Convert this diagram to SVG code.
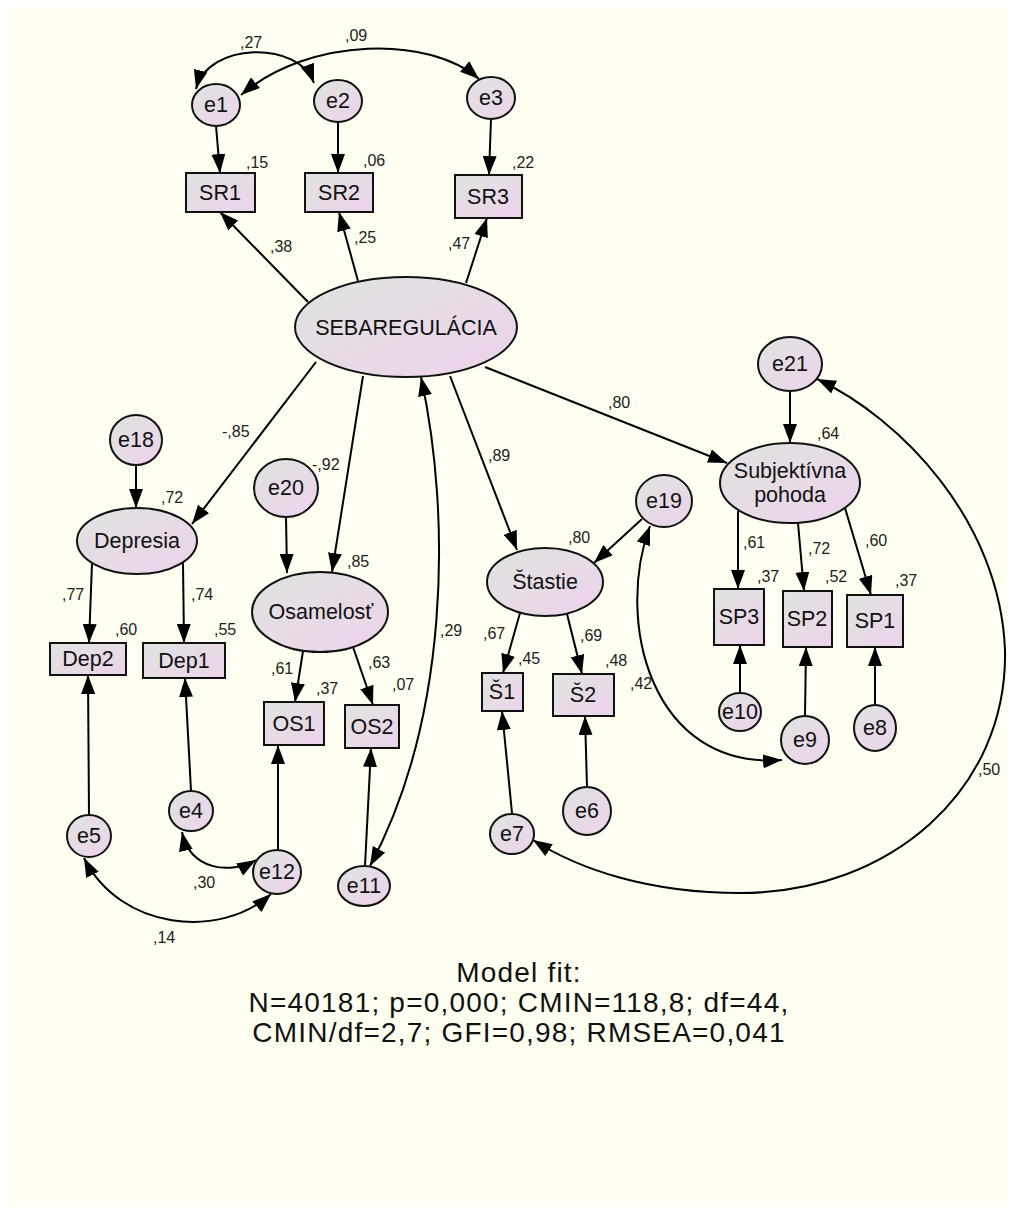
<svg xmlns="http://www.w3.org/2000/svg" width="1017" height="1214" viewBox="0 0 1017 1214">
<style>
.n{stroke:#111;stroke-width:2;fill:url(#g)}
.t{font-family:"Liberation Sans",Arial,sans-serif;font-size:21.5px;fill:#111;text-anchor:middle}
.l{font-family:"Liberation Sans",Arial,sans-serif;font-size:16px;fill:#222}
.c{fill:none;stroke:#000;stroke-width:2;marker-end:url(#a)}
.b{fill:none;stroke:#000;stroke-width:2;marker-end:url(#a);marker-start:url(#a)}
.f{font-family:"Liberation Sans",Arial,sans-serif;font-size:28px;fill:#111;text-anchor:middle;letter-spacing:1.2px}
</style>
<defs>
<linearGradient id="g" x1="0" y1="0" x2="1" y2="1">
<stop offset="0" stop-color="#e0e3e1"/>
<stop offset="1" stop-color="#edd3ea"/>
</linearGradient>
<marker id="a" markerUnits="userSpaceOnUse" markerWidth="19" markerHeight="14" refX="19" refY="7" orient="auto-start-reverse">
<path d="M0,0 L19,7 L0,14 z" fill="#000"/>
</marker>
</defs>
<rect x="0" y="0" width="1017" height="1214" fill="#fff"/>
<rect x="8" y="7" width="1001" height="1200" fill="#fefff0"/>

<g id="connectors">
<line class="c" x1="216" y1="126" x2="220" y2="173"/>
<line class="c" x1="338" y1="122" x2="338" y2="173"/>
<line class="c" x1="491" y1="119" x2="489" y2="175"/>
<line class="c" x1="308" y1="302" x2="220" y2="212"/>
<line class="c" x1="358" y1="281" x2="339" y2="212"/>
<line class="c" x1="466" y1="283" x2="487" y2="218"/>
<path class="b" d="M196,89 C208,42 298,40 314,83"/>
<path class="b" d="M241,95 C310,36 430,36 479,79"/>
<line class="c" x1="136" y1="465" x2="136" y2="508"/>
<line class="c" x1="316" y1="362" x2="192" y2="524"/>
<line class="c" x1="92" y1="563" x2="89" y2="643"/>
<line class="c" x1="183" y1="563" x2="184" y2="643"/>
<line class="c" x1="286" y1="517" x2="287" y2="573"/>
<line class="c" x1="363" y1="376" x2="332" y2="572"/>
<line class="c" x1="303" y1="651" x2="295" y2="702"/>
<line class="c" x1="353" y1="647" x2="373" y2="705"/>
<path class="b" d="M421,377 C452,520 448,720 370,866"/>
<line class="c" x1="191" y1="791" x2="185" y2="678"/>
<line class="c" x1="89" y1="815" x2="88" y2="675"/>
<line class="c" x1="278" y1="850" x2="278" y2="745"/>
<line class="c" x1="365" y1="866" x2="371" y2="748"/>
<path class="b" d="M182,832 C190,870 230,875 256,860"/>
<path class="b" d="M84,858 C120,930 220,940 271,894"/>
<line class="c" x1="450" y1="376" x2="517" y2="550"/>
<line class="c" x1="485" y1="367" x2="727" y2="463"/>
<line class="c" x1="642" y1="519" x2="594" y2="563"/>
<line class="c" x1="520" y1="613" x2="503" y2="673"/>
<line class="c" x1="567" y1="614" x2="582" y2="674"/>
<line class="c" x1="512" y1="813" x2="502" y2="711"/>
<line class="c" x1="587" y1="787" x2="585" y2="716"/>
<path class="b" d="M650,526 C615,620 650,770 782,760"/>
<line class="c" x1="790" y1="391" x2="790" y2="443"/>
<path class="b" d="M817,379 C900,418 1000,520 1005,650 C1008,790 890,893 740,893 C650,893 580,870 533,840"/>
<line class="c" x1="740" y1="693" x2="740" y2="645"/>
<line class="c" x1="805" y1="716" x2="806" y2="647"/>
<line class="c" x1="875" y1="705" x2="875" y2="647"/>
<line class="c" x1="738" y1="511" x2="738" y2="589"/>
<line class="c" x1="798" y1="523" x2="804" y2="591"/>
<line class="c" x1="845" y1="508" x2="871" y2="595"/>
</g>

<g id="e1"><ellipse class="n" cx="216" cy="105" rx="24" ry="21"/><text class="t" x="216" y="112">e1</text></g>
<g id="e2"><ellipse class="n" cx="338" cy="101" rx="24" ry="21"/><text class="t" x="338" y="108">e2</text></g>
<g id="e3"><ellipse class="n" cx="491" cy="98" rx="24" ry="21"/><text class="t" x="491" y="105">e3</text></g>
<g id="SR1"><rect class="n" x="186" y="173" width="69" height="39"/><text class="t" x="220" y="200">SR1</text></g>
<g id="SR2"><rect class="n" x="305" y="173" width="68" height="39"/><text class="t" x="339" y="200">SR2</text></g>
<g id="SR3"><rect class="n" x="455" y="175" width="67" height="43"/><text class="t" x="488" y="204">SR3</text></g>
<g id="SEBAREGULACIA"><ellipse class="n" cx="406" cy="327" rx="111" ry="50"/><text class="t" x="406" y="335">SEBAREGULÁCIA</text></g>
<g id="e18"><ellipse class="n" cx="136" cy="440" rx="26" ry="25"/><text class="t" x="136" y="447">e18</text></g>
<g id="Depresia"><ellipse class="n" cx="137" cy="541" rx="60" ry="33"/><text class="t" x="137" y="548">Depresia</text></g>
<g id="e20"><ellipse class="n" cx="286" cy="488" rx="32" ry="29"/><text class="t" x="286" y="495">e20</text></g>
<g id="Osamelost"><ellipse class="n" cx="320" cy="612" rx="68" ry="40"/><text class="t" x="321" y="619">Osamelosť</text></g>
<g id="Dep2"><rect class="n" x="50" y="643" width="76" height="32"/><text class="t" x="88" y="666">Dep2</text></g>
<g id="Dep1"><rect class="n" x="143" y="643" width="82" height="35"/><text class="t" x="184" y="668">Dep1</text></g>
<g id="OS1"><rect class="n" x="264" y="702" width="60" height="43"/><text class="t" x="294" y="731">OS1</text></g>
<g id="OS2"><rect class="n" x="345" y="705" width="54" height="43"/><text class="t" x="372" y="734">OS2</text></g>
<g id="e4"><ellipse class="n" cx="191" cy="811" rx="22" ry="20"/><text class="t" x="191" y="818">e4</text></g>
<g id="e5"><ellipse class="n" cx="89" cy="836" rx="22" ry="21"/><text class="t" x="89" y="843">e5</text></g>
<g id="e12"><ellipse class="n" cx="277" cy="872" rx="24" ry="22"/><text class="t" x="277" y="879">e12</text></g>
<g id="e11"><ellipse class="n" cx="364" cy="886" rx="26" ry="20"/><text class="t" x="364" y="893">e11</text></g>
<g id="Stastie"><ellipse class="n" cx="545" cy="582" rx="58" ry="34"/><text class="t" x="545" y="589">Štastie</text></g>
<g id="e19"><ellipse class="n" cx="664" cy="501" rx="28" ry="26"/><text class="t" x="664" y="508">e19</text></g>
<g id="S1"><rect class="n" x="482" y="673" width="41" height="38"/><text class="t" x="502" y="699">Š1</text></g>
<g id="S2"><rect class="n" x="553" y="674" width="61" height="42"/><text class="t" x="583" y="702">Š2</text></g>
<g id="e7"><ellipse class="n" cx="512" cy="834" rx="22" ry="20"/><text class="t" x="512" y="841">e7</text></g>
<g id="e6"><ellipse class="n" cx="587" cy="811" rx="24" ry="24"/><text class="t" x="587" y="818">e6</text></g>
<g id="SubjektivnaPohoda"><ellipse class="n" cx="790" cy="483" rx="70" ry="40"/><text class="t" x="790" y="478">Subjektívna</text><text class="t" x="790" y="502">pohoda</text></g>
<g id="e21"><ellipse class="n" cx="790" cy="364" rx="32" ry="27"/><text class="t" x="790" y="371">e21</text></g>
<g id="SP3"><rect class="n" x="714" y="589" width="50" height="56"/><text class="t" x="739" y="624">SP3</text></g>
<g id="SP2"><rect class="n" x="783" y="591" width="49" height="56"/><text class="t" x="807" y="626">SP2</text></g>
<g id="SP1"><rect class="n" x="847" y="595" width="56" height="52"/><text class="t" x="875" y="628">SP1</text></g>
<g id="e10"><ellipse class="n" cx="740" cy="712" rx="21" ry="19"/><text class="t" x="740" y="719">e10</text></g>
<g id="e9"><ellipse class="n" cx="805" cy="740" rx="24" ry="24"/><text class="t" x="805" y="747">e9</text></g>
<g id="e8"><ellipse class="n" cx="875" cy="728" rx="21" ry="23"/><text class="t" x="875" y="735">e8</text></g>

<g id="labels">
<text class="l" x="240" y="48">,27</text>
<text class="l" x="345" y="41">,09</text>
<text class="l" x="246" y="168">,15</text>
<text class="l" x="363" y="166">,06</text>
<text class="l" x="512" y="168">,22</text>
<text class="l" x="270" y="252">,38</text>
<text class="l" x="354" y="243">,25</text>
<text class="l" x="448" y="249">,47</text>
<text class="l" x="222" y="437">-,85</text>
<text class="l" x="161" y="503">,72</text>
<text class="l" x="62" y="600">,77</text>
<text class="l" x="191" y="600">,74</text>
<text class="l" x="115" y="635">,60</text>
<text class="l" x="214" y="635">,55</text>
<text class="l" x="312" y="470">-,92</text>
<text class="l" x="347" y="567">,85</text>
<text class="l" x="271" y="674">,61</text>
<text class="l" x="368" y="668">,63</text>
<text class="l" x="316" y="694">,37</text>
<text class="l" x="392" y="690">,07</text>
<text class="l" x="440" y="636">,29</text>
<text class="l" x="608" y="408">,80</text>
<text class="l" x="488" y="461">,89</text>
<text class="l" x="568" y="543">,80</text>
<text class="l" x="817" y="439">,64</text>
<text class="l" x="743" y="548">,61</text>
<text class="l" x="808" y="554">,72</text>
<text class="l" x="865" y="546">,60</text>
<text class="l" x="483" y="639">,67</text>
<text class="l" x="518" y="664">,45</text>
<text class="l" x="580" y="641">,69</text>
<text class="l" x="605" y="666">,48</text>
<text class="l" x="630" y="689">,42</text>
<text class="l" x="757" y="582">,37</text>
<text class="l" x="825" y="582">,52</text>
<text class="l" x="895" y="586">,37</text>
<text class="l" x="978" y="775">,50</text>
<text class="l" x="193" y="888">,30</text>
<text class="l" x="153" y="943">,14</text>
</g>

<g id="modelfit">
<text class="f" x="519" y="982">Model fit:</text>
<text class="f" x="519" y="1012">N=40181; p=0,000; CMIN=118,8; df=44,</text>
<text class="f" x="519" y="1042">CMIN/df=2,7; GFI=0,98; RMSEA=0,041</text>
</g>
</svg>
